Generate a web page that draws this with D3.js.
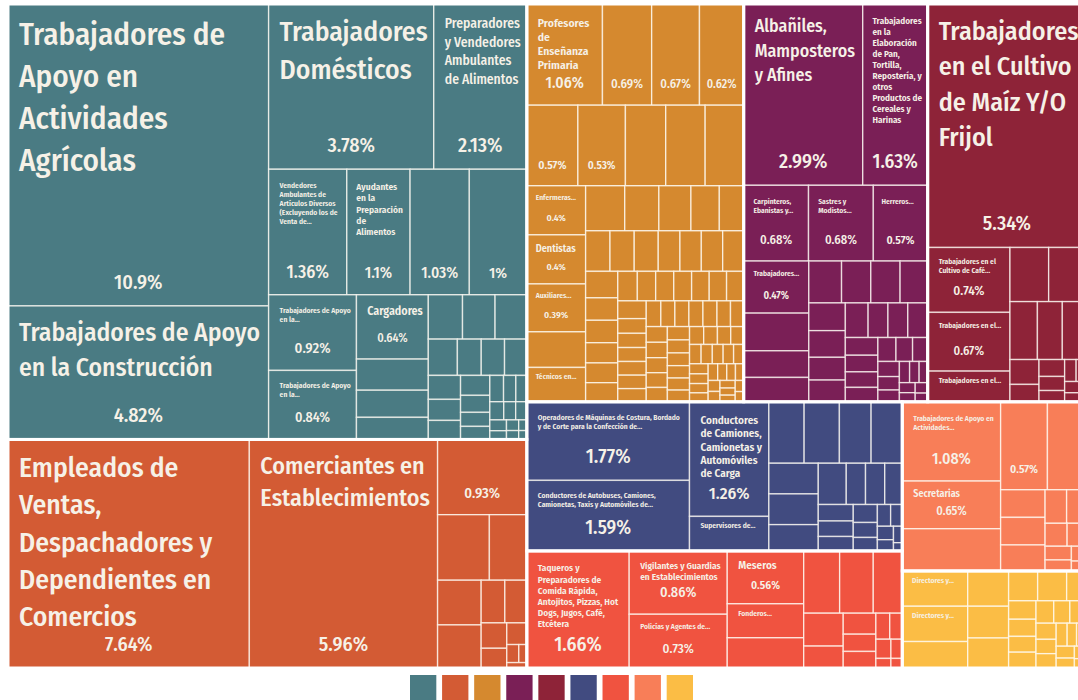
<!DOCTYPE html>
<html>
<head>
<meta charset="utf-8">
<script src="https://cdn.jsdelivr.net/npm/d3@7"></script>
<style>
  html, body { margin: 0; padding: 0; background: #ffffff; overflow: hidden; }
  svg { display: block; font-family: "Fira Sans Condensed", "Open Sans", sans-serif; font-stretch: 87.5%; }
</style>
</head>
<body>
<svg id="chart" width="1078" height="700"></svg>
<script>
// ---------- DATA ----------
const groupNames = [
  "Trabajadores en Actividades Elementales y de Apoyo",
  "Comerciantes, Empleados en Ventas y Agentes de Ventas",
  "Profesionistas y Técnicos",
  "Trabajadores Artesanales",
  "Trabajadores en Actividades Agrícolas, Ganaderas, Forestales, Caza y Pesca",
  "Operadores de Maquinaria Industrial, Ensambladores, Choferes y Conductores de Transporte",
  "Trabajadores en Servicios Personales y Vigilancia",
  "Trabajadores Auxiliares en Actividades Administrativas",
  "Funcionarios, Directores y Jefes"
];
const groupColors = ["#4a7b83", "#d35b34", "#d5892f", "#7a1f56", "#8e2338", "#414b80", "#f05340", "#f87e58", "#fbbd45"];

// [name shown, share %, show percentage (1/0)]
const apoyo = [
  ["Trabajadores de Apoyo en Actividades Agrícolas", 10.9, 1],
  ["Trabajadores de Apoyo en la Construcción", 4.82, 1],
  ["Trabajadores Domésticos", 3.78, 1],
  ["Preparadores y Vendedores Ambulantes de Alimentos", 2.13, 1],
  ["Vendedores Ambulantes de Artículos Diversos (Excluyendo los de Venta de...", 1.36, 1],
  ["Ayudantes en la Preparación de Alimentos", 1.1, 1],
  ["", 1.03, 1], ["", 1.0, 1],
  ["Trabajadores de Apoyo en la...", 0.92, 1],
  ["Trabajadores de Apoyo en la...", 0.84, 1],
  ["Cargadores", 0.64, 1],
  ["", 0.31, 0], ["", 0.27, 0], ["", 0.22, 0], ["", 0.21, 0], ["", 0.2, 0], ["", 0.195, 0],
  ["", 0.146, 0], ["", 0.12, 0], ["", 0.117, 0], ["", 0.112, 0], ["", 0.107, 0], ["", 0.094, 0],
  ["", 0.085, 0], ["", 0.081, 0], ["", 0.069, 0], ["", 0.057, 0], ["", 0.053, 0], ["", 0.05, 0],
  ["", 0.045, 0], ["", 0.04, 0], ["", 0.035, 0], ["", 0.03, 0], ["", 0.028, 0], ["", 0.025, 0],
  ["", 0.02, 0], ["", 0.018, 0], ["", 0.015, 0], ["", 0.012, 0], ["", 0.01, 0]
];
const ventas = [
  ["Empleados de Ventas, Despachadores y Dependientes en Comercios", 7.64, 1],
  ["Comerciantes en Establecimientos", 5.96, 1],
  ["", 0.93, 1],
  ["", 0.47, 0], ["", 0.34, 0], ["", 0.27, 0], ["", 0.26, 0], ["", 0.14, 0], ["", 0.13, 0],
  ["", 0.09, 0], ["", 0.07, 0], ["", 0.06, 0], ["", 0.03, 0], ["", 0.02, 0], ["", 0.015, 0]
];
const profesionistas = [
  ["Profesores de Enseñanza Primaria", 1.06, 1],
  ["", 0.69, 1], ["", 0.67, 1], ["", 0.62, 1], ["", 0.57, 1], ["", 0.53, 1],
  ["", 0.45, 0], ["", 0.44, 0], ["", 0.43, 0],
  ["Enfermeras...", 0.4, 1], ["Dentistas", 0.4, 1], ["Auxiliares...", 0.39, 1],
  ["", 0.29, 0], ["Técnicos en...", 0.28, 0],
  ["", 0.244, 0], ["", 0.213, 0], ["", 0.2, 0], ["", 0.177, 0], ["", 0.152, 0],
  ["", 0.137, 0], ["", 0.136, 0], ["", 0.135, 0], ["", 0.122, 0], ["", 0.12, 0], ["", 0.12, 0], ["", 0.118, 0],
  ["", 0.118, 0], ["", 0.1, 0], ["", 0.1, 0], ["", 0.09, 0], ["", 0.088, 0], ["", 0.085, 0], ["", 0.08, 0],
  ["", 0.075, 0], ["", 0.074, 0], ["", 0.073, 0], ["", 0.072, 0], ["", 0.071, 0], ["", 0.07, 0], ["", 0.07, 0],
  ["", 0.058, 0], ["", 0.056, 0], ["", 0.055, 0], ["", 0.054, 0], ["", 0.053, 0], ["", 0.052, 0],
  ["", 0.052, 0], ["", 0.05, 0], ["", 0.05, 0], ["", 0.05, 0], ["", 0.05, 0],
  ["", 0.048, 0], ["", 0.047, 0], ["", 0.046, 0], ["", 0.045, 0], ["", 0.044, 0], ["", 0.043, 0],
  ["", 0.042, 0], ["", 0.041, 0], ["", 0.04, 0], ["", 0.039, 0], ["", 0.038, 0], ["", 0.037, 0],
  ["", 0.036, 0], ["", 0.035, 0], ["", 0.034, 0], ["", 0.033, 0], ["", 0.032, 0], ["", 0.031, 0],
  ["", 0.03, 0], ["", 0.029, 0], ["", 0.028, 0], ["", 0.027, 0], ["", 0.026, 0], ["", 0.025, 0],
  ["", 0.024, 0], ["", 0.023, 0], ["", 0.022, 0], ["", 0.021, 0], ["", 0.02, 0], ["", 0.019, 0],
  ["", 0.018, 0], ["", 0.017, 0], ["", 0.016, 0], ["", 0.015, 0], ["", 0.014, 0], ["", 0.013, 0], ["", 0.012, 0]
];
const artesanales = [
  ["Albañiles, Mamposteros y Afines", 2.99, 1],
  ["Trabajadores en la Elaboración de Pan, Tortilla, Repostería, y otros Productos de Cereales y Harinas", 1.63, 1],
  ["Carpinteros, Ebanistas y...", 0.68, 1],
  ["Sastres y Modistos...", 0.68, 1],
  ["Herreros...", 0.57, 1],
  ["Trabajadores...", 0.47, 1],
  ["", 0.34, 0], ["", 0.24, 0], ["", 0.22, 0], ["", 0.19, 0], ["", 0.17, 0], ["", 0.17, 0], ["", 0.16, 0],
  ["", 0.14, 0], ["", 0.135, 0], ["", 0.115, 0], ["", 0.11, 0], ["", 0.109, 0], ["", 0.095, 0], ["", 0.095, 0],
  ["", 0.095, 0], ["", 0.08, 0], ["", 0.075, 0], ["", 0.07, 0], ["", 0.065, 0], ["", 0.06, 0], ["", 0.055, 0],
  ["", 0.05, 0], ["", 0.045, 0], ["", 0.04, 0], ["", 0.035, 0], ["", 0.03, 0], ["", 0.028, 0], ["", 0.025, 0],
  ["", 0.022, 0], ["", 0.02, 0], ["", 0.018, 0], ["", 0.015, 0]
];
const agricolas = [
  ["Trabajadores en el Cultivo de Maíz Y/O Frijol", 5.34, 1],
  ["Trabajadores en el Cultivo de Café...", 0.74, 1],
  ["Trabajadores en el...", 0.67, 1],
  ["Trabajadores en el...", 0.35, 0],
  ["", 0.29, 0], ["", 0.28, 0], ["", 0.22, 0], ["", 0.2, 0], ["", 0.19, 0], ["", 0.1, 0], ["", 0.07, 0],
  ["", 0.06, 0], ["", 0.05, 0], ["", 0.04, 0], ["", 0.035, 0], ["", 0.03, 0], ["", 0.025, 0], ["", 0.02, 0], ["", 0.015, 0]
];
const operadores = [
  ["Operadores de Máquinas de Costura, Bordado y de Corte para la Confección de...", 1.77, 1],
  ["Conductores de Autobuses, Camiones, Camionetas, Taxis y Automóviles de...", 1.59, 1],
  ["Conductores de Camiones, Camionetas y Automóviles de Carga", 1.26, 1],
  ["Supervisores de...", 0.38, 0],
  ["", 0.3, 0], ["", 0.3, 0], ["", 0.27, 0], ["", 0.265, 0], ["", 0.21, 0], ["", 0.21, 0], ["", 0.18, 0],
  ["", 0.16, 0], ["", 0.11, 0], ["", 0.11, 0], ["", 0.1, 0], ["", 0.08, 0], ["", 0.075, 0], ["", 0.07, 0],
  ["", 0.06, 0], ["", 0.05, 0], ["", 0.045, 0], ["", 0.04, 0], ["", 0.035, 0], ["", 0.03, 0], ["", 0.025, 0],
  ["", 0.02, 0], ["", 0.01, 0]
];
const servicios = [
  ["Taqueros y Preparadores de Comida Rápida, Antojitos, Pizzas, Hot Dogs, Jugos, Café, Etcétera", 1.66, 1],
  ["Vigilantes y Guardias en Establecimientos", 0.86, 1],
  ["Policías y Agentes de...", 0.73, 1],
  ["Meseros", 0.56, 1],
  ["Fonderos...", 0.36, 0],
  ["", 0.32, 0], ["", 0.31, 0], ["", 0.29, 0], ["", 0.25, 0], ["", 0.18, 0], ["", 0.12, 0], ["", 0.095, 0],
  ["", 0.078, 0], ["", 0.075, 0], ["", 0.05, 0], ["", 0.045, 0], ["", 0.04, 0], ["", 0.03, 0], ["", 0.02, 0], ["", 0.015, 0]
];
const auxiliares = [
  ["Trabajadores de Apoyo en Actividades...", 1.08, 1],
  ["Secretarias", 0.65, 1],
  ["", 0.575, 0],
  ["", 0.57, 1],
  ["", 0.47, 0], ["", 0.17, 0], ["", 0.17, 0], ["", 0.16, 0], ["", 0.1, 0], ["", 0.09, 0],
  ["", 0.07, 0], ["", 0.06, 0], ["", 0.05, 0], ["", 0.04, 0], ["", 0.03, 0], ["", 0.02, 0]
];
const directivos = [
  ["Directores y...", 0.32, 0], ["Directores y...", 0.32, 0],
  ["", 0.24, 0], ["", 0.2, 0], ["", 0.18, 0], ["", 0.17, 0], ["", 0.12, 0], ["", 0.12, 0], ["", 0.08, 0],
  ["", 0.07, 0], ["", 0.065, 0], ["", 0.06, 0], ["", 0.06, 0], ["", 0.055, 0], ["", 0.05, 0], ["", 0.05, 0],
  ["", 0.045, 0], ["", 0.04, 0], ["", 0.04, 0], ["", 0.035, 0], ["", 0.03, 0], ["", 0.03, 0], ["", 0.03, 0],
  ["", 0.025, 0], ["", 0.02, 0], ["", 0.015, 0]
];
const groupLeaves = [apoyo, ventas, profesionistas, artesanales, agricolas, operadores, servicios, auxiliares, directivos];

// ---------- CHART ----------
const svg = d3.select("#chart");
const TEXT = "#f6f1e7";
const W = 1078, H = 664, X0 = 8, Y0 = 4;

const data = {
  name: "Ocupaciones",
  children: groupNames.map((g, i) => ({
    name: g, color: groupColors[i],
    children: groupLeaves[i].map(([name, value, show]) => ({ name, value, show }))
  }))
};
const root = d3.hierarchy(data).sum(d => d.value || 0).sort((a, b) => b.value - a.value);
d3.treemap().tile(d3.treemapSquarify).size([W, H])(root);

const g = svg.append("g").attr("transform", `translate(${X0},${Y0})`);

const leaves = root.leaves();
g.selectAll("rect.cell").data(leaves).join("rect")
  .attr("class", "cell")
  .attr("x", d => d.x0).attr("y", d => d.y0)
  .attr("width", d => Math.max(0, d.x1 - d.x0)).attr("height", d => Math.max(0, d.y1 - d.y0))
  .attr("fill", d => d.parent.data.color)
  .attr("stroke", "rgba(255,252,245,0.72)").attr("stroke-width", 1.4)
  .append("title").text(d => (d.data.name || d.parent.data.name) + ": " + d.data.value + "%");

g.selectAll("rect.grp").data(root.children).join("rect")
  .attr("class", "grp")
  .attr("x", d => d.x0).attr("y", d => d.y0)
  .attr("width", d => d.x1 - d.x0).attr("height", d => d.y1 - d.y0)
  .attr("fill", "none").attr("stroke", "#ffffff").attr("stroke-width", 3);

// text measurement
const meas = svg.append("text").attr("font-size", 100).attr("font-weight", 450).style("visibility", "hidden");
const cache = new Map();
function unitW(s) {
  if (!cache.has(s)) { meas.text(s); cache.set(s, meas.node().getComputedTextLength() / 100); }
  return cache.get(s);
}
function wrap(words, fs, maxW, allowOver) {
  const lines = []; let cur = "";
  for (const w of words) {
    const t = cur ? cur + " " + w : w;
    if (unitW(t) * fs <= maxW) cur = t;
    else {
      if (cur) lines.push(cur);
      if (unitW(w) * fs > maxW && !allowOver) return null;
      cur = w;
    }
  }
  if (cur) lines.push(cur);
  return lines;
}
function lineH(fs) { return fs < 12 ? fs * 1.2 : fs * 1.36; }
function fitName(name, boxW, boxH, fsMax) {
  const words = name.split(/\s+/);
  for (let fs = fsMax; fs >= 6; fs -= 0.5) {
    const lh = lineH(fs);
    const lines = wrap(words, fs, boxW, false);
    if (!lines) continue;
    if ((lines.length - 1) * lh + fs <= boxH) return { fs, lh, lines };
  }
  const fs = 6, lh = 7.2;
  const maxL = Math.floor((boxH - fs) / lh) + 1;
  if (maxL < 1 || boxW < 15) return null;
  let lines = wrap(words, fs, boxW, true);
  if (lines.length > maxL) {
    lines = lines.slice(0, maxL);
    lines[maxL - 1] = lines[maxL - 1].replace(/\.*$/, "") + "...";
  }
  return { fs, lh, lines };
}

const labels = g.append("g").attr("fill", TEXT).attr("font-weight", 450).style("pointer-events", "none");
leaves.forEach(d => {
  const name = d.data.name, show = d.data.show;
  if (!name && !show) return;
  const w = d.x1 - d.x0, h = d.y1 - d.y0;
  const padL = Math.min(11, w * 0.15), padR = Math.min(5, w * 0.08);
  const padT = Math.min(12, h * 0.15);
  let bottom = d.y1 - padT;
  if (show) {
    const str = d.data.value + "%";
    const fsP = Math.min(20, 0.18 * Math.sqrt(w * h), (w - 2 * padL) / unitW(str));
    if (fsP >= 6) {
      const base = d.y1 - Math.min(17, h * 0.28);
      labels.append("text")
        .attr("x", (d.x0 + d.x1) / 2).attr("y", base)
        .attr("text-anchor", "middle").attr("font-size", fsP.toFixed(1))
        .attr("font-weight", fsP < 12 ? 600 : 480)
        .text(str);
      bottom = base - fsP * 0.8 - 4;
    }
  }
  if (name) {
    const top = d.y0 + padT;
    const fsMax = name.endsWith("...") ? 7.5 : Math.min(31, 0.19 * Math.sqrt(w * h), h * 0.21);
    const fit = fitName(name, w - padL - padR, bottom - top, fsMax);
    if (!fit) return;
    const t = labels.append("text").attr("font-size", fit.fs.toFixed(1))
      .attr("font-weight", fit.fs < 12 ? 600 : 450);
    fit.lines.forEach((ln, i) => {
      t.append("tspan").attr("x", d.x0 + padL).attr("y", top + fit.fs * 0.92 + i * fit.lh).text(ln);
    });
  }
});
meas.remove();

// legend
const legendX = d3.scaleBand().domain(groupNames).range([410, 693]).paddingInner(0.18);
svg.append("g").selectAll("rect").data(groupNames).join("rect")
  .attr("x", n => legendX(n)).attr("y", 675)
  .attr("width", legendX.bandwidth()).attr("height", 26)
  .attr("fill", (n, i) => groupColors[i])
  .append("title").text(n => n);
</script>
</body>
</html>
